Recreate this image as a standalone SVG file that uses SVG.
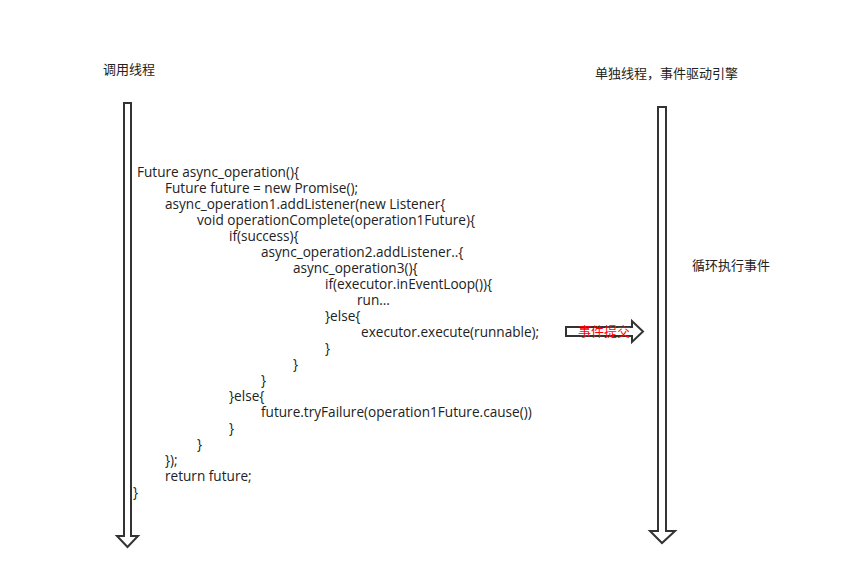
<svg xmlns="http://www.w3.org/2000/svg" width="843" height="579" viewBox="0 0 843 579">
<style>
.arrow{fill:#fff;stroke:#333;stroke-width:2;stroke-linejoin:miter}
.lbl{font-family:"Noto Sans CJK SC","Noto Sans",sans-serif;font-size:13px;fill:#222}
.code{font-family:"Open Sans","Noto Sans",sans-serif;font-size:13.6px;fill:#222}
.red{font-family:"Noto Sans CJK SC","Noto Sans",sans-serif;font-size:13px;fill:#ff0000}
</style>
<rect width="843" height="579" fill="#fff"/>
<g id="connectors">
<path class="arrow" d="M124,103 H131 V536 H138 L127.5,547 L117,536 H124 Z"/>
<path class="arrow" d="M658,107 H666 V531 H675 L662,543 L650,531 H658 Z"/>
<path class="arrow" d="M566,327 H632 V321 L643,331.5 L632,342 V336 H566 Z"/>
</g>
<g id="caller-thread">
<text class="lbl" x="103" y="74">调用线程</text>
</g>
<g id="event-engine">
<text class="lbl" x="595" y="78">单独线程，事件驱动引擎</text>
<text class="lbl" x="692" y="270">循环执行事件</text>
</g>
<g id="submit-label">
<text class="red" x="578" y="336">事件提交</text>
</g>
<g id="code">
<text class="code" x="137" y="177">Future async_operation(){</text>
<text class="code" x="165" y="193">Future future = new Promise();</text>
<text class="code" x="165" y="209">async_operation1.addListener(new Listener{</text>
<text class="code" x="197" y="225">void operationComplete(operation1Future){</text>
<text class="code" x="229" y="241">if(success){</text>
<text class="code" x="261" y="257">async_operation2.addListener..{</text>
<text class="code" x="293" y="273">async_operation3(){</text>
<text class="code" x="325" y="289">if(executor.inEventLoop()){</text>
<text class="code" x="357" y="305">run...</text>
<text class="code" x="325" y="321">}else{</text>
<text class="code" x="361" y="337">executor.execute(runnable);</text>
<text class="code" x="325" y="353">}</text>
<text class="code" x="293" y="369">}</text>
<text class="code" x="261" y="385">}</text>
<text class="code" x="229" y="401">}else{</text>
<text class="code" x="261" y="417">future.tryFailure(operation1Future.cause())</text>
<text class="code" x="229" y="433">}</text>
<text class="code" x="197" y="449">}</text>
<text class="code" x="165" y="465">});</text>
<text class="code" x="165" y="481">return future;</text>
<text class="code" x="133" y="497">}</text>
</g>
</svg>
